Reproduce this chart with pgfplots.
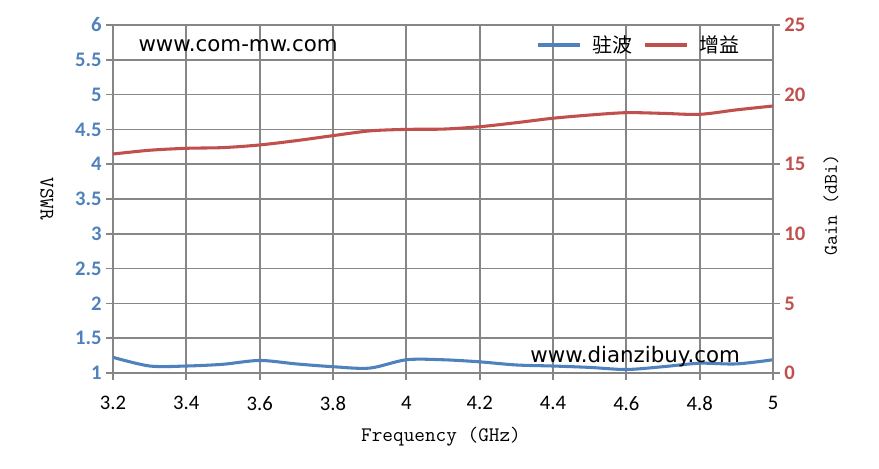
\documentclass[border=0pt]{standalone}
\usepackage{pgfplots}
\pgfplotsset{compat=1.18}
\usepackage{fontspec}
\setmainfont{Carlito}
\newfontfamily\cjk{Noto Sans CJK SC}
\newfontfamily\wm{DejaVu Sans}
\newcommand\lab{\ttfamily}
\definecolor{vswrblue}{RGB}{79,129,189}
\definecolor{gainred}{RGB}{192,80,77}
\definecolor{gridgray}{RGB}{134,134,134}

\pgfplotsset{
  common/.style={
    scale only axis, width=495pt, height=261pt,
    xmin=3.2, xmax=5,
    axis line style={gridgray, line width=1.3pt},
    major tick style={gridgray, line width=1.3pt},
    tick align=outside, major tick length=5pt,
    /pgf/number format/assume math mode=true,
  },
}

\begin{document}
\begin{tikzpicture}
\begin{axis}[
    common,
    ymin=1, ymax=6,
    xtick={3.2,3.4,3.6,3.8,4,4.2,4.4,4.6,4.8,5},
    ytick={1,1.5,2,2.5,3,3.5,4,4.5,5,5.5,6},
    xtick pos=bottom, ytick pos=left,
    grid=major, grid style={gridgray, line width=1.3pt},
    yticklabel style={font=\bfseries\fontsize{15.5}{16}\selectfont, text=vswrblue},
    xticklabel style={font=\fontsize{15.5}{16}\selectfont, yshift=-9pt},
    ylabel={\lab\fontsize{15.5}{16}\selectfont VSWR},
    ylabel style={rotate=180, at={(axis description cs:-0.1,0.5)}, anchor=center},
    xlabel={\lab\fontsize{15.5}{16}\selectfont Frequency\hspace{8pt}(GHz)},
    xlabel style={at={(axis description cs:0.497,-0.184)}, anchor=center},
]
\addplot[vswrblue, line width=2.3pt, smooth] coordinates {
    (3.2,1.225) (3.3,1.10) (3.4,1.10) (3.5,1.125) (3.6,1.18)
    (3.7,1.13) (3.8,1.09) (3.9,1.07) (4.0,1.19) (4.1,1.19)
    (4.2,1.16) (4.3,1.115) (4.4,1.10) (4.5,1.08) (4.6,1.05)
    (4.7,1.09) (4.8,1.14) (4.9,1.13) (5.0,1.19)
};
\node[font=\wm\fontsize{16}{17}\selectfont] at (axis cs:3.541,5.70) {www.com-mw.com};
\node[font=\wm\fontsize{16}{17}\selectfont] at (axis cs:4.624,1.23) {www.dianzibuy.com};
\coordinate (bl) at (rel axis cs:-0.1712,-0.2759);
\coordinate (tr) at (rel axis cs:1.1606,1.0718);
\end{axis}
\begin{axis}[
    common,
    ymin=0, ymax=25,
    ytick={0,5,10,15,20,25},
    axis x line=none, axis y line*=right,
    yticklabel style={font=\bfseries\fontsize{15.5}{16}\selectfont, text=gainred},
    ylabel={\lab\fontsize{14.5}{15}\selectfont Gain\hspace{8pt}(dBi)},
    ylabel style={at={(axis description cs:1.088,0.483)}, anchor=center, rotate=0},
    legend columns=2,
    legend style={draw=none, fill=none, at={(axis description cs:0.96,0.9425)}, anchor=east,
        font=\cjk\fontsize{15}{16}\selectfont, column sep=6pt},
    legend image code/.code={\draw[#1, line width=2.3pt] (0pt,0pt) -- (32pt,0pt);},
]
\addlegendimage{vswrblue}
\addlegendentry{驻波}
\addplot[gainred, line width=2.3pt, smooth] coordinates {
    (3.2,15.73) (3.3,16.0) (3.4,16.14) (3.5,16.19) (3.6,16.38)
    (3.7,16.69) (3.8,17.05) (3.9,17.39) (4.0,17.5) (4.1,17.52)
    (4.2,17.69) (4.3,17.98) (4.4,18.3) (4.5,18.53) (4.6,18.7)
    (4.7,18.65) (4.8,18.58) (4.9,18.9) (5.0,19.18)
};
\addlegendentry{增益}
\end{axis}
\path (bl) rectangle (tr);
\end{tikzpicture}
\end{document}
